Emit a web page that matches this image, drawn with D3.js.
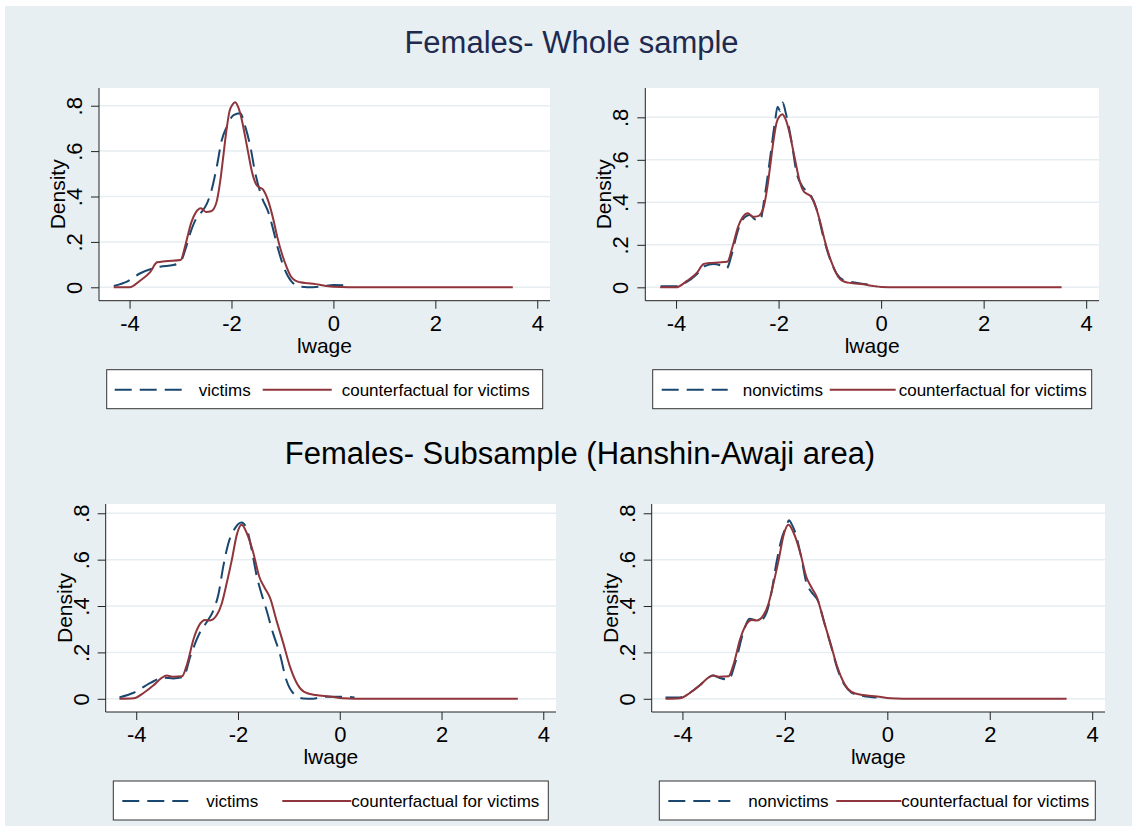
<!DOCTYPE html>
<html>
<head>
<meta charset="utf-8">
<script src="https://cdn.jsdelivr.net/npm/d3@7"></script>
<style>
  body { margin: 0; background: #fff; }
  text { font-family: Arial, "Liberation Sans", sans-serif; }
</style>
</head>
<body>
<svg id="chart" width="1132" height="826"></svg>
<script>
// ---- data ----
const xTicks = [-4, -2, 0, 2, 4];
const yTicks = [0, 0.2, 0.4, 0.6, 0.8];
const yTickLabels = ["0", ".2", ".4", ".6", ".8"];
const titles = ["Females- Whole sample", "Females- Subsample (Hanshin-Awaji area)"];
const groupLabels = ["victims", "nonvictims"];
const cfLabel = "counterfactual for victims";

// whole sample
const wholeCounterfactual = [[-4.31,0],[-4.0,0],[-3.79,.03],[-3.6,.066],[-3.46,.11],[-3.3,.115],[-3.0,.12],[-2.9,.19],
  [-2.79,.285],[-2.7,.33],[-2.6,.348],[-2.5,.332],[-2.4,.335],[-2.3,.37],[-2.22,.47],[-2.17,.56],[-2.1,.69],[-2.04,.775],
  [-1.98,.805],[-1.93,.815],[-1.87,.795],[-1.8,.74],[-1.75,.685],[-1.67,.59],[-1.6,.51],[-1.52,.455],[-1.45,.44],
  [-1.38,.43],[-1.27,.374],[-1.18,.3],[-1.1,.22],[-1.0,.14],[-.92,.09],[-.84,.05],[-.75,.03],[-.65,.022],[-.5,.018],
  [-.35,.014],[-.15,.006],[0,.002],[.3,0],[3.52,0]];
const wholeVictims = [[-4.31,.006],[-4.05,.025],[-3.79,.062],[-3.53,.084],[-3.4,.091],[-3.14,.098],[-3.0,.113],[-2.9,.17],
  [-2.81,.238],[-2.7,.3],[-2.61,.326],[-2.48,.37],[-2.39,.429],[-2.29,.53],[-2.19,.649],[-2.09,.708],[-1.96,.759],
  [-1.83,.767],[-1.73,.708],[-1.63,.62],[-1.54,.51],[-1.41,.40],[-1.27,.326],[-1.18,.253],[-1.08,.164],[-.95,.076],
  [-.82,.025],[-.65,.003],[-.4,0],[-.2,.005],[0,.01],[.33,.008]];
const wholeNonvictims = [[-4.3,.005],[-4.02,.005],[-3.79,.025],[-3.6,.06],[-3.44,.1],[-3.27,.11],[-3.1,.1],[-3.01,.09],
  [-2.92,.15],[-2.79,.27],[-2.66,.33],[-2.56,.34],[-2.46,.32],[-2.36,.315],[-2.27,.43],[-2.17,.6],[-2.07,.78],[-2.02,.85],
  [-1.97,.83],[-1.92,.87],[-1.86,.82],[-1.75,.69],[-1.65,.54],[-1.52,.47],[-1.39,.44],[-1.26,.37],[-1.13,.24],[-1.0,.135],
  [-.87,.065],[-.74,.035],[-.55,.024],[-.29,.014],[-.09,.004]];

// Hanshin-Awaji subsample
const subCounterfactual = [[-4.33,0],[-4.05,.002],[-3.85,.026],[-3.66,.058],[-3.5,.09],[-3.4,.1],[-3.27,.095],[-3.1,.097],
  [-3.0,.15],[-2.87,.26],[-2.74,.325],[-2.65,.34],[-2.55,.338],[-2.42,.36],[-2.32,.41],[-2.22,.5],[-2.12,.6],[-2.02,.71],
  [-1.93,.75],[-1.83,.716],[-1.7,.63],[-1.58,.525],[-1.48,.48],[-1.37,.435],[-1.24,.335],[-1.11,.24],[-.98,.14],
  [-.83,.062],[-.7,.03],[-.47,.016],[-.2,.01],[.06,.002],[.3,0],[3.5,0]];
const subVictims = [[-4.33,.006],[-4.05,.026],[-3.72,.069],[-3.46,.091],[-3.27,.088],[-3.07,.095],[-2.94,.181],[-2.74,.289],
  [-2.61,.332],[-2.48,.383],[-2.38,.455],[-2.29,.57],[-2.19,.67],[-2.06,.735],[-1.93,.76],[-1.83,.735],[-1.73,.642],
  [-1.63,.527],[-1.53,.447],[-1.44,.383],[-1.31,.282],[-1.18,.196],[-1.05,.081],[-.91,.023],[-.72,.001],[-.52,0],
  [-.33,.009],[0,.009],[.29,.006]];
const subNonvictims = [[-4.33,.006],[-4.05,.006],[-3.86,.025],[-3.66,.058],[-3.53,.085],[-3.41,.1],[-3.27,.09],[-3.1,.083],
  [-2.95,.17],[-2.82,.28],[-2.69,.345],[-2.59,.34],[-2.49,.335],[-2.36,.37],[-2.26,.46],[-2.17,.58],[-2.07,.685],
  [-1.97,.745],[-1.92,.77],[-1.86,.75],[-1.81,.725],[-1.68,.61],[-1.58,.5],[-1.48,.46],[-1.35,.42],[-1.22,.32],
  [-1.09,.22],[-.96,.12],[-.83,.058],[-.70,.027],[-.47,.012],[-.21,.006]];

// ---- layout ----
const bg = "#e8eff2";
const navy = "#1a476f";
const maroon = "#90353b";
const xDomain = [-4.6, 4.25];

const panels = [
  {left: 99, right: 550, top: 88, bottom: 300.7, yDomain: [-0.059, 0.878],
   dashed: wholeVictims, solid: wholeCounterfactual, label: groupLabels[0],
   legend: {x: 106.7, w: 436, dash: [8, 75], text1: 92, solid: [156, 225], text2: 235}},
  {left: 645.3, right: 1099, top: 88, bottom: 300.7, yDomain: [-0.063, 0.938],
   dashed: wholeNonvictims, solid: wholeCounterfactual, label: groupLabels[1],
   legend: {x: 652.7, w: 439, dash: [9, 75], text1: 90, solid: [177, 243], text2: 246}},
  {left: 105.7, right: 556, top: 504, bottom: 712, yDomain: [-0.057, 0.84],
   dashed: subVictims, solid: subCounterfactual, label: groupLabels[0],
   legend: {x: 113.3, w: 435, dash: [9, 75], text1: 93, solid: [169, 238], text2: 238}},
  {left: 651.7, right: 1105, top: 504, bottom: 712, yDomain: [-0.057, 0.84],
   dashed: subNonvictims, solid: subCounterfactual, label: groupLabels[1],
   legend: {x: 659.3, w: 436, dash: [9, 71], text1: 89, solid: [177, 242], text2: 242}}
];

const svg = d3.select("#chart");

svg.append("rect")
    .attr("x", 5).attr("y", 6)
    .attr("width", 1127).attr("height", 820)
    .attr("fill", bg);

svg.append("text")
    .attr("x", 571.5).attr("y", 53)
    .attr("text-anchor", "middle")
    .attr("font-size", 31)
    .attr("fill", "#1e2a4e")
    .text(titles[0]);

svg.append("text")
    .attr("x", 580).attr("y", 464)
    .attr("text-anchor", "middle")
    .attr("font-size", 31)
    .attr("fill", "#000")
    .text(titles[1]);

panels.forEach(p => {
    let x = d3.scaleLinear().domain(xDomain).range([p.left, p.right]);
    let y = d3.scaleLinear().domain(p.yDomain).range([p.bottom, p.top]);
    let g = svg.append("g");

    g.append("rect")
        .attr("x", p.left).attr("y", p.top)
        .attr("width", p.right - p.left).attr("height", p.bottom - p.top)
        .attr("fill", "#fff");

    g.selectAll(".grid").data(yTicks).enter().append("line")
        .attr("x1", p.left).attr("x2", p.right)
        .attr("y1", d => y(d)).attr("y2", d => y(d))
        .attr("stroke", "#e6eef1").attr("stroke-width", 1.5);

    // y axis, labels turned like Stata's
    let yAxis = g.append("g")
        .attr("transform", `translate(${p.left},0)`)
        .call(d3.axisLeft(y).tickValues(yTicks).tickSize(8).tickFormat((d, i) => yTickLabels[i]));
    yAxis.select(".domain").attr("d", `M0,${p.top}V${p.bottom}`).attr("stroke", "#222");
    yAxis.selectAll(".tick line").attr("stroke", "#222");
    yAxis.selectAll(".tick text")
        .attr("font-size", 22).attr("fill", "#000")
        .attr("x", null).attr("dy", null)
        .attr("text-anchor", "middle")
        .attr("transform", "translate(-17,0) rotate(-90)");

    // x axis
    let xAxis = g.append("g")
        .attr("transform", `translate(0,${p.bottom})`)
        .call(d3.axisBottom(x).tickValues(xTicks).tickSize(8).tickFormat(d3.format("d")));
    xAxis.select(".domain").attr("d", `M${p.left},0H${p.right}`).attr("stroke", "#222");
    xAxis.selectAll(".tick line").attr("stroke", "#222");
    xAxis.selectAll(".tick text")
        .attr("font-size", 22).attr("fill", "#000")
        .attr("y", 30).attr("dy", null);
    xAxis.selectAll("text").text(d => d < 0 ? "-" + Math.abs(d) : d);

    g.append("text")
        .attr("transform", `translate(${p.left - 34},${(p.top + p.bottom) / 2}) rotate(-90)`)
        .attr("text-anchor", "middle")
        .attr("font-size", 21)
        .text("Density");

    g.append("text")
        .attr("x", (p.left + p.right) / 2).attr("y", p.bottom + 52)
        .attr("text-anchor", "middle")
        .attr("font-size", 21)
        .text("lwage");

    let line = d3.line()
        .x(d => x(d[0])).y(d => y(d[1]))
        .curve(d3.curveMonotoneX);

    g.append("path").datum(p.dashed)
        .attr("d", line).attr("fill", "none")
        .attr("stroke", navy).attr("stroke-width", 2)
        .attr("stroke-dasharray", "17,8");

    g.append("path").datum(p.solid)
        .attr("d", line).attr("fill", "none")
        .attr("stroke", maroon).attr("stroke-width", 2);

    // legend
    let L = p.legend;
    let ly = p.bottom + 69;
    let lg = g.append("g").attr("transform", `translate(${L.x},${ly})`);
    lg.append("rect")
        .attr("width", L.w).attr("height", 39)
        .attr("fill", "#fff").attr("stroke", "#333").attr("stroke-width", 1);
    lg.append("line")
        .attr("x1", L.dash[0]).attr("x2", L.dash[1]).attr("y1", 20).attr("y2", 20)
        .attr("stroke", navy).attr("stroke-width", 2).attr("stroke-dasharray", "17,8");
    lg.append("text")
        .attr("x", L.text1).attr("y", 26)
        .attr("font-size", 17).text(p.label);
    lg.append("line")
        .attr("x1", L.solid[0]).attr("x2", L.solid[1]).attr("y1", 20).attr("y2", 20)
        .attr("stroke", maroon).attr("stroke-width", 2);
    lg.append("text")
        .attr("x", L.text2).attr("y", 26)
        .attr("font-size", 17).text(cfLabel);
});
</script>
</body>
</html>
